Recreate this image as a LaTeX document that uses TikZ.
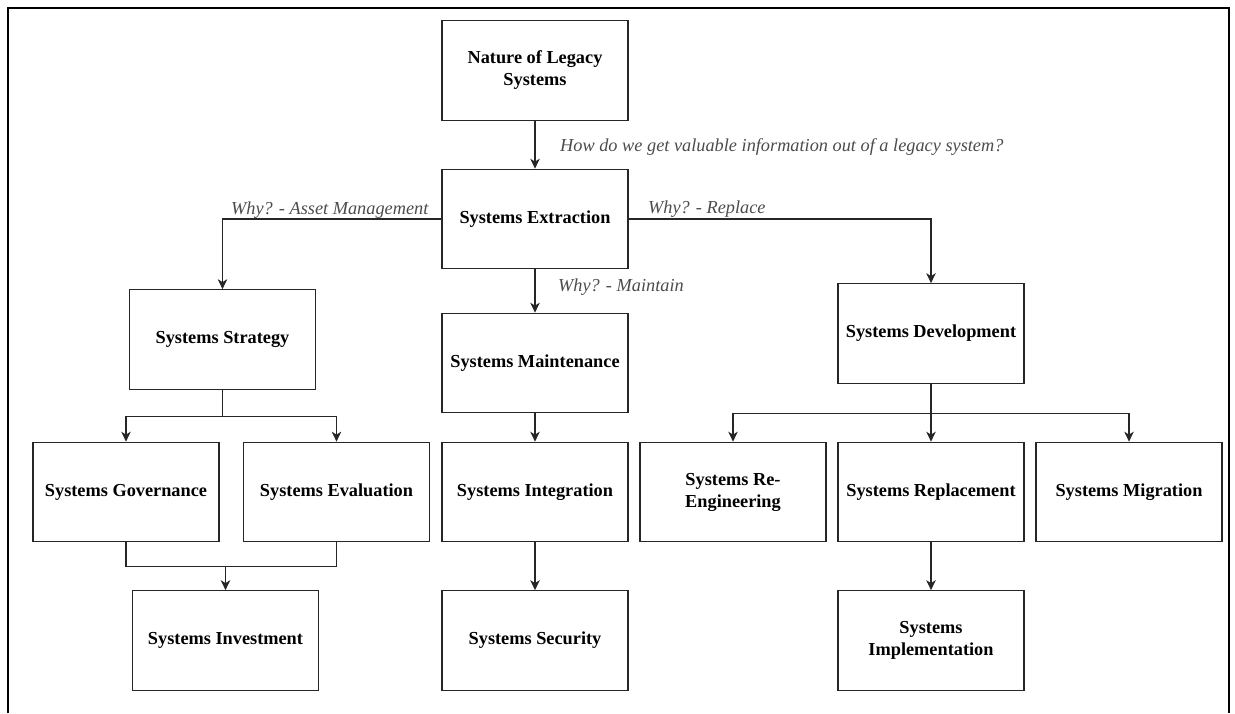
\documentclass[tikz,border=0pt]{standalone}
\usepackage{fontspec}
\setmainfont{Liberation Serif}
\usetikzlibrary{arrows.meta}
\begin{document}
\begin{tikzpicture}[x=1pt,y=-1pt,
  topic/.style={draw=black!85, line width=1.2pt, minimum width=186pt, minimum height=99.5pt,
    inner sep=2pt, align=center, font=\fontsize{18.3}{22}\selectfont\bfseries},
  why/.style={text=black!70, inner sep=0pt, font=\fontsize{18.3}{22}\selectfont\itshape},
  link/.style={draw=black!85, line width=1.2pt},
  flow/.style={link, -{Stealth[length=10pt,width=9.5pt,inset=3pt]}}]
\useasboundingbox (0,0) rectangle (1235,713);
% outer frame, open at the bottom
\draw[line width=1.5pt] (8,713) -- (8,8) -- (1229,8) -- (1229,713);

% boxes
\node[topic] (nature)   at (535,70.5)  {Nature of Legacy\\Systems};
\node[topic] (extract)  at (535,219)   {Systems Extraction};
\node[topic] (strategy) at (222.5,339.5) {Systems Strategy};
\node[topic] (maint)    at (535,363)   {Systems Maintenance};
\node[topic] (dev)      at (931,333.5) {Systems Development};
\node[topic] (gov)      at (126,492)   {Systems Governance};
\node[topic] (eval)     at (336.5,492) {Systems Evaluation};
\node[topic] (integ)    at (535,492)   {Systems Integration};
\node[topic] (reeng)    at (733,492)   {Systems Re-\\Engineering};
\node[topic] (repl)     at (931,492)   {Systems Replacement};
\node[topic] (migr)     at (1129,492)  {Systems Migration};
\node[topic] (invest)   at (225.5,640.5) {Systems Investment};
\node[topic] (secur)    at (535,640.5) {Systems Security};
\node[topic] (impl)     at (931,640.5) {Systems\\Implementation};

% connectors
\draw[flow] (nature) -- (extract);
\draw[flow] (extract.west) -| (strategy.north);
\draw[flow] (extract.east) -| (dev.north);
\draw[flow] (extract) -- (maint);
\draw[flow] (maint) -- (integ);
\draw[flow] (integ) -- (secur);

\path (strategy.south) ++(0,27) coordinate (sbus);
\draw[link] (strategy.south) -- (sbus);
\draw[flow] (sbus) -| (gov.north);
\draw[flow] (sbus) -| (eval.north);

\path (gov.south) ++(0,24.5) coordinate (ibus);
\draw[link] (gov.south) -- (ibus) -| (eval.south);
\draw[flow] (invest.north |- ibus) -- (invest.north);

\path (dev.south) ++(0,29.5) coordinate (dbus);
\draw[flow] (dev) -- (repl);
\draw[flow] (dbus) -| (reeng.north);
\draw[flow] (dbus) -| (migr.north);
\draw[flow] (repl) -- (impl);

% connector labels
\node[why, anchor=base west] (lhow)   at (560,151) {How do we get valuable information out of a legacy system?};
\node[why, anchor=base west] (lasset) at (231,214) {Why? - Asset Management};
\node[why, anchor=base west] (lrepl)  at (648,213) {Why? - Replace};
\node[why, anchor=base west] (lmaint) at (558,291) {Why? - Maintain};
\end{tikzpicture}
\end{document}
